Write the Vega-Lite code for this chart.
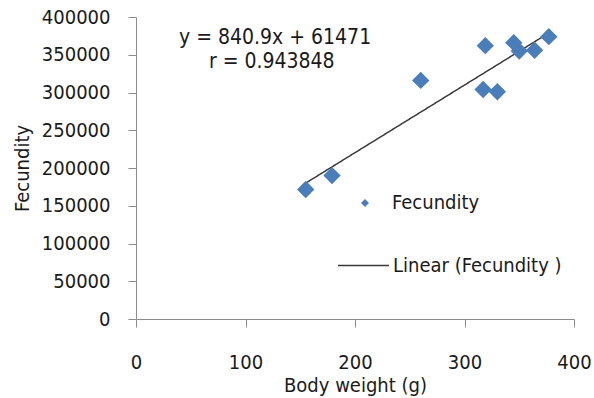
{
  "$schema": "https://vega.github.io/schema/vega-lite/v6.json",
  "width": 438,
  "height": 302,
  "autosize": {"type": "none"},
  "padding": {"left": 136, "top": 17, "right": 20, "bottom": 79},
  "background": "white",
  "config": {
    "view": {"stroke": null},
    "font": "DejaVu Sans Condensed",
    "axis": {
      "grid": false,
      "domainColor": "#8c8c8c",
      "tickColor": "#8c8c8c",
      "tickSize": 8,
      "labelFontSize": 20,
      "labelColor": "#1a1a1a",
      "labelFont": "DejaVu Sans Condensed",
      "titleFont": "DejaVu Sans Condensed",
      "titleFontSize": 20,
      "titleFontWeight": "normal",
      "titleColor": "#1a1a1a",
      "labelFlush": false,
      "labelOverlap": false
    },
    "legend": {
      "labelFont": "DejaVu Sans Condensed",
      "labelFontSize": 20,
      "labelColor": "#1a1a1a",
      "labelLimit": 400,
      "padding": 0,
      "title": null
    }
  },
  "datasets": {
    "pts": [
      {"weight": 155, "fecundity": 171500},
      {"weight": 179, "fecundity": 190000},
      {"weight": 260, "fecundity": 316000},
      {"weight": 317, "fecundity": 304000},
      {"weight": 319, "fecundity": 362000},
      {"weight": 330, "fecundity": 301000},
      {"weight": 345, "fecundity": 366000},
      {"weight": 350, "fecundity": 355000},
      {"weight": 364, "fecundity": 356000},
      {"weight": 377, "fecundity": 374000}
    ],
    "trend": [
      {"weight": 155, "fecundity": 180000},
      {"weight": 377, "fecundity": 378800}
    ],
    "eq": [
      {"weight": 127, "fecundity": 372500, "label": "y = 840.9x  + 61471"},
      {"weight": 124, "fecundity": 341000, "label": "r = 0.943848"}
    ]
  },
  "encoding": {
    "x": {"field": "weight", "type": "quantitative", "scale": {"domain": [0, 400], "nice": false},
      "axis": {"values": [0, 100, 200, 300, 400], "tickCount": 10, "labelOverlap": false, "title": "Body weight  (g)", "labelPadding": 25, "titleX": 219, "titleY": 66, "titleBaseline": "middle"}},
    "y": {"field": "fecundity", "type": "quantitative", "scale": {"domain": [0, 400000], "nice": false},
      "axis": {"values": [0, 50000, 100000, 150000, 200000, 250000, 300000, 350000, 400000], "tickCount": 20, "labelOverlap": false, "format": "d", "title": "Fecundity", "labelPadding": 18, "titleX": -114, "titleY": 151, "titleAngle": -90, "titleAlign": "center", "titleBaseline": "middle"}}
  },
  "layer": [
    {
      "data": {"name": "trend"},
      "mark": {"type": "line", "color": "#3a3a3a", "strokeWidth": 1.5},
      "encoding": {
        "strokeDash": {"datum": "Linear (Fecundity )", "scale": {"range": [[1, 0]]},
          "legend": {"orient": "none", "legendX": 201, "legendY": 222, "symbolType": "stroke", "symbolSize": 2601, "symbolStrokeColor": "#3a3a3a", "symbolStrokeWidth": 1.5, "labelOffset": 3}}
      }
    },
    {
      "data": {"name": "pts"},
      "mark": {"type": "point", "filled": true, "shape": "diamond", "size": 300, "color": "#4a7ebb", "opacity": 1},
      "encoding": {
        "shape": {"datum": "Fecundity", "scale": {"range": ["diamond"]},
          "legend": {"orient": "none", "legendX": 219, "legendY": 176, "symbolSize": 64, "symbolFillColor": "#4a7ebb", "symbolStrokeColor": "#4a7ebb", "symbolOpacity": 1, "labelOffset": 17}}
      }
    },
    {
      "data": {"name": "eq"},
      "mark": {"type": "text", "fontSize": 21, "color": "#1a1a1a", "font": "DejaVu Sans Condensed"},
      "encoding": {
        "text": {"field": "label"}
      }
    }
  ]
}
